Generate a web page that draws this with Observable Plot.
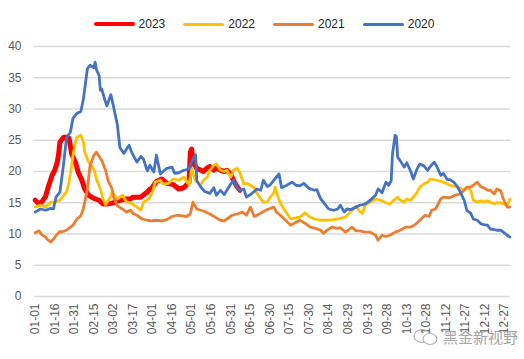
<!DOCTYPE html>
<html><head><meta charset="utf-8">
<script src="https://cdn.jsdelivr.net/npm/d3@7"></script>
<script src="https://cdn.jsdelivr.net/npm/@observablehq/plot@0.6"></script>
<style>
body{margin:0;background:#fff;font-family:"Liberation Sans",Arial,sans-serif;}
#wrap{position:relative;width:524px;height:359px;overflow:hidden;background:#fff;}
#legend{height:36px;display:flex;justify-content:center;align-items:center;gap:18px;padding-left:4px;box-sizing:border-box;padding-top:12px;}
.item{display:flex;align-items:center;font-size:12px;color:#262626;}
.sw{width:41px;height:3px;border-radius:2px;margin-right:4px;}
#wm{position:absolute;left:413px;top:326px;display:flex;align-items:center;color:#a6a6a6;font-size:15px;font-family:"Noto Sans CJK SC",sans-serif;}
</style></head><body>
<div id="wrap"><div id="legend"></div><div id="chart"></div>
<div id="wm"><svg width="26" height="18" viewBox="0 0 26 18"><ellipse cx="9" cy="8" rx="8" ry="6.5" fill="none" stroke="#b0b0b0" stroke-width="1.2"/><ellipse cx="17" cy="11" rx="7" ry="5.5" fill="#fff" stroke="#b0b0b0" stroke-width="1.2"/></svg><span style="margin-left:4px">黑金新视野</span></div>
</div>
<script>
// Series
const years = ["2023", "2022", "2021", "2020"];
const colors = ["#FF0000", "#FFC000", "#ED7D31", "#4472C4"];
const widths = [5, 2.8, 2.8, 2.8];

const days2023 = [0,3,5,8,10,13,15,17,18,19,22,24,26,28,31,33,36,38,41,45,49,52,55,58,60,65,70,73,75,81,84,86,88,89,93,97,101,106,110,114,118,119,120,121,124,127,129,132,134,137,139,142,145,147,150,152,155,157];
const vals2023 = [15.4,14.8,15.1,16.0,17.5,19.4,20.2,21.5,22.8,24.7,25.5,25.5,25.3,22.8,21.4,19.9,18.5,17.2,16.2,15.7,15.4,14.8,14.8,14.9,15.0,15.4,15.6,15.6,15.9,15.9,16.4,16.7,17.2,17.2,18.4,18.8,18.1,17.9,17.2,17.4,18.3,23.1,23.6,21.5,20.5,20.2,20.0,20.6,20.8,20.2,20.6,20.2,20.0,20.2,19.6,18.6,17.5,17.0];

const days2022 = [0,4,8,12,15,19,22,24,26,28,29,31,32,35,37,38,41,45,47,50,52,54,58,59,63,67,70,74,78,81,83,87,90,92,96,98,102,106,110,114,118,120,123,127,129,132,134,137,139,142,145,147,150,152,155,157,160,162,165,168,170,173,175,178,180,183,184,187,189,192,196,200,203,207,210,214,219,224,229,234,238,242,246,249,251,253,257,261,265,269,272,275,278,280,283,285,288,290,293,295,298,301,303,308,313,318,324,329,331,334,336,339,342,344,347,349,352,354,357,359,362,364];
const vals2022 = [14.3,14.6,14.3,15.1,15.1,15.4,16.2,16.7,18.3,21.0,22.6,24.7,25.5,25.8,24.7,23.1,21.5,20.4,18.8,17.2,15.6,14.7,16.0,16.7,15.6,16.2,15.1,14.9,14.3,13.8,15.1,15.6,16.7,18.3,18.6,18.0,18.1,18.8,18.6,19.1,17.8,20.4,18.5,17.9,18.6,19.1,20.2,21.0,21.2,20.2,20.0,20.2,19.1,20.2,20.5,19.8,18.0,18.1,17.8,17.4,16.6,15.6,15.1,15.1,15.8,16.6,17.5,15.4,14.6,13.6,12.4,12.6,12.7,13.4,12.8,12.4,12.2,12.2,12.3,12.5,12.7,13.6,14.4,13.6,13.3,14.6,15.1,15.6,15.4,15.0,14.8,15.4,15.9,15.4,15.1,15.6,15.4,15.9,16.7,17.5,18.0,18.3,18.8,18.6,18.3,17.8,17.5,17.0,17.5,17.0,15.4,15.1,15.3,15.1,15.3,15.1,14.8,15.0,15.0,14.8,14.6,15.6];

const days2021 = [0,3,5,8,9,12,14,17,19,20,24,27,29,32,35,37,40,42,45,47,49,51,54,56,59,60,63,67,70,73,75,78,82,86,89,93,97,101,105,109,113,116,119,121,124,127,130,134,138,142,145,147,151,155,159,162,165,168,171,175,179,183,185,188,192,196,200,203,207,211,215,219,221,225,228,231,234,238,240,243,246,249,253,257,261,263,266,269,272,276,280,284,288,292,295,299,302,304,307,311,313,318,322,326,329,331,334,336,339,342,344,347,349,352,354,357,359,362,364];
const vals2021 = [10.2,10.5,9.9,9.5,9.2,8.7,9.2,10.0,10.4,10.3,10.6,11.1,11.4,12.4,12.9,14.1,17.1,20.8,22.6,23.1,22.4,21.8,20.2,18.5,17.2,16.0,14.5,14.0,13.5,13.8,13.3,13.0,12.4,12.2,12.1,12.2,12.1,12.3,12.8,13.0,12.9,12.8,13.2,15.1,14.0,13.8,13.6,13.2,12.7,12.2,12.1,12.4,13.0,13.2,13.5,13.0,14.3,12.8,13.1,13.6,14.0,14.3,13.5,13.0,12.2,11.4,11.9,12.2,11.7,11.1,10.9,10.6,10.1,10.8,11.1,10.9,11.0,10.3,10.6,11.1,10.5,10.5,10.3,10.3,9.8,9.0,9.8,9.6,9.8,10.3,10.6,11.1,11.1,11.6,12.2,13.0,12.8,13.8,14.0,15.6,15.9,15.8,16.2,16.4,17.0,17.5,17.5,17.8,18.3,17.5,17.4,17.0,17.0,16.4,17.2,16.9,15.6,14.3,14.3];

const days2020 = [0,4,8,12,14,16,19,22,24,27,29,32,35,37,38,40,42,45,46,47,49,50,51,54,55,58,60,63,65,68,72,74,78,81,83,86,88,91,93,96,98,101,105,107,110,114,118,120,123,124,127,130,134,137,139,142,145,147,150,152,155,157,160,162,165,168,170,173,175,178,180,183,187,189,193,197,200,203,206,210,214,216,219,221,225,229,232,234,237,239,242,246,249,253,257,261,263,266,269,271,273,274,276,277,278,280,283,285,288,290,293,295,298,301,303,306,308,311,313,316,318,321,324,326,329,331,334,336,339,342,344,347,349,352,354,357,359,362,364];
const vals2020 = [13.5,14.0,13.8,14.1,14.0,15.9,16.7,21.5,25.3,26.3,28.5,29.3,29.6,31.6,33.2,36.4,37.0,36.6,37.5,36.3,35.4,33.0,33.2,31.1,30.5,32.3,30.5,27.5,23.8,22.9,24.2,23.1,21.5,22.4,22.0,20.1,21.0,19.9,22.6,19.6,20.0,20.5,20.7,19.7,19.8,20.2,20.4,21.5,22.7,18.5,17.5,16.8,16.5,17.4,16.2,17.0,16.3,17.0,18.0,18.6,17.4,17.0,17.2,15.9,16.3,16.8,17.2,17.0,18.6,17.6,17.8,18.6,19.6,17.4,17.8,18.3,17.8,17.7,18.1,17.3,17.0,17.1,15.6,15.1,14.0,13.8,14.0,14.6,13.5,14.0,13.9,14.3,14.6,14.8,15.4,16.2,17.2,16.6,18.3,17.8,18.5,22.8,25.8,25.6,22.3,21.7,20.7,21.4,20.0,18.8,20.5,21.2,20.9,20.2,20.8,21.5,20.8,19.4,19.7,18.7,18.7,18.3,17.5,16.7,15.4,13.8,13.3,12.4,12.2,11.6,11.5,11.4,10.8,10.7,10.6,10.6,10.3,9.8,9.5];

// Axes
const xTickLabels = ["01-01","01-16","01-31","02-15","03-02","03-17","04-01","04-16","05-01","05-16","05-31","06-15","06-30","07-15","07-30","08-14","08-29","09-13","09-28","10-13","10-28","11-12","11-27","12-12","12-27"];
const yTicks = [0,5,10,15,20,25,30,35,40];

const parse = d3.utcParse("%Y-%m-%d");
const start = parse("2021-01-01");
const tickDays = xTickLabels.map(l => d3.utcDay.count(start, parse("2021-" + l)));
const labelOf = new Map(tickDays.map((d, i) => [d, xTickLabels[i]]));

const seriesDays = [days2023, days2022, days2021, days2020];
const seriesVals = [vals2023, vals2022, vals2021, vals2020];
const rows = years.map((y, k) => seriesDays[k].map((d, i) => ({year: y, day: d, value: seriesVals[k][i]})));

// Legend
const leg = document.getElementById("legend");
years.forEach((y, k) => {
  const it = document.createElement("div");
  it.className = "item";
  it.innerHTML = `<span class="sw" style="background:${colors[k]};height:${k === 0 ? 4 : 3}px"></span><span>${y}</span>`;
  leg.appendChild(it);
});

const chart = Plot.plot({
  width: 524, height: 323,
  marginTop: 10, marginBottom: 63, marginLeft: 34, marginRight: 14,
  style: {fontFamily: "'Liberation Sans', Arial, sans-serif", fontSize: "12px", color: "#595959", background: "#fff"},
  x: {domain: [-0.5, 364.5], label: null},
  y: {domain: [0, 40], label: null},
  marks: [
    Plot.gridY(yTicks, {stroke: "#D9D9D9", strokeOpacity: 1, strokeWidth: 1.5}),
    Plot.axisY(yTicks, {tickSize: 0, tickPadding: 13, fontSize: 12, fill: "#595959", label: null}),
    Plot.axisX(tickDays, {tickSize: 0, tickRotate: -90, tickPadding: 7, fontSize: 12, fill: "#595959", label: null, tickFormat: d => labelOf.get(d)}),
    ...rows.map((r, k) => Plot.line(r, {x: "day", y: "value", stroke: colors[k], strokeWidth: widths[k], strokeLinejoin: "round", strokeLinecap: "round"}))
  ]
});
document.getElementById("chart").appendChild(chart);
</script>
</body></html>
